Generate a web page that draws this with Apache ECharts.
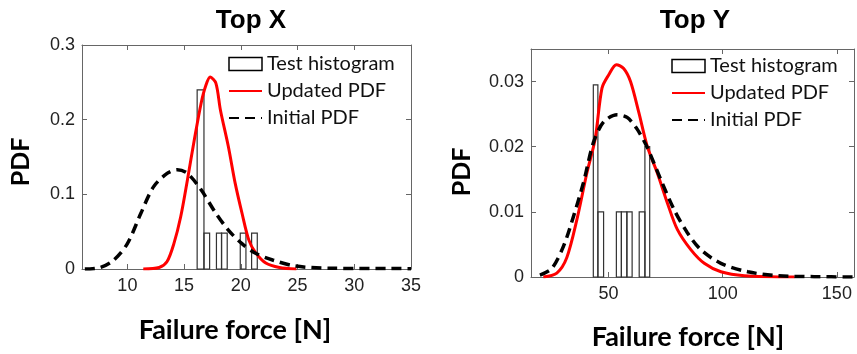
<!DOCTYPE html>
<html>
<head>
<meta charset="utf-8">
<script src="https://cdn.jsdelivr.net/npm/echarts@6/dist/echarts.min.js"></script>
<style>html,body{margin:0;padding:0;background:#fff}#c{width:857px;height:354px}</style>
</head>
<body>
<div id="c"></div>
<script>
// ---------- Data: Top X ----------
const topXTickLabels = [10, 15, 20, 25, 30, 35];
const topXYTicks = [0, 0.1, 0.2, 0.3];
const topXHistStart = [16.15, 16.75, 17.85, 18.3, 19.95, 20.95];
const topXHistEnd   = [16.75, 17.25, 18.3, 18.8, 20.45, 21.45];
const topXHistValue = [0.24, 0.048, 0.048, 0.048, 0.048, 0.048];
const topXUpdatedX = [11.4, 12.8, 13.5, 14.1, 14.7, 15.3, 15.9, 16.5, 16.9, 17.3, 17.8, 18.2, 18.9, 19.5, 20.1, 20.7, 21.3, 22.2, 23.4, 24.9];
const topXUpdatedY = [0, 0.002, 0.01, 0.034, 0.07, 0.12, 0.173, 0.222, 0.245, 0.257, 0.249, 0.213, 0.164, 0.115, 0.075, 0.039, 0.022, 0.008, 0.002, 0];
const topXInitialX = [6.25, 7.6, 8.8, 10.0, 11.2, 12.3, 13.5, 14.4, 15.3, 16.5, 17.7, 18.9, 20.1, 21.3, 22.8, 24.8, 27.8, 35];
const topXInitialY = [0, 0.002, 0.012, 0.034, 0.075, 0.11, 0.128, 0.133, 0.128, 0.106, 0.077, 0.052, 0.034, 0.021, 0.012, 0.004, 0.001, 0.0005];

// ---------- Data: Top Y ----------
const topYTickLabels = [50, 100, 150];
const topYYTicks = [0, 0.01, 0.02, 0.03];
const topYHistStart = [43.3, 45.3, 53.4, 55.6, 58.0, 63.4, 65.9];
const topYHistEnd   = [45.3, 47.8, 55.6, 58.0, 60.3, 65.9, 68.0];
const topYHistValue = [0.0295, 0.01, 0.01, 0.01, 0.01, 0.01, 0.02];
const topYUpdatedX = [21.4, 27.3, 31.7, 36.1, 40.5, 44.1, 47.1, 50, 53.4, 56.6, 59.6, 63.2, 66.9, 71.3, 75.7, 80.1, 86, 91.9, 99.2, 109.5, 131.5];
const topYUpdatedY = [0, 0.0006, 0.003, 0.0088, 0.016, 0.0212, 0.029, 0.031, 0.0326, 0.032, 0.030, 0.0253, 0.0201, 0.016, 0.0114, 0.0073, 0.0042, 0.0021, 0.0008, 0.0002, 0];
const topYInitialX = [19.9, 25.1, 30.2, 34.6, 39, 43.4, 47.8, 53.7, 58.1, 62.5, 66.9, 72.8, 78.6, 84.5, 90.4, 99.2, 111, 124.2, 140, 157.5];
const topYInitialY = [0.0003, 0.0013, 0.0047, 0.0093, 0.0145, 0.0207, 0.0238, 0.0249, 0.0245, 0.0227, 0.0199, 0.015, 0.0104, 0.0068, 0.0042, 0.0021, 0.0008, 0.0002, 0.00005, 0];

const NAME_HIST = 'Test histogram', NAME_UPD = 'Updated PDF', NAME_INIT = 'Initial PDF';

function zip(a, b) { return a.map((v, i) => [v, b[i]]); }
function histData(s, e, v) { return s.map((x, i) => [x, e[i], v[i]]); }

function renderHist(params, api) {
  const p0 = api.coord([api.value(0), api.value(2)]);
  const p1 = api.coord([api.value(1), 0]);
  return {
    type: 'rect',
    shape: { x: p0[0], y: p0[1], width: p1[0] - p0[0], height: p1[1] - p0[1] },
    style: { fill: 'none', stroke: '#333', lineWidth: 1.2 }
  };
}

const axisCol = '#666';
const labelStyle = { fontFamily: 'Liberation Sans', fontSize: 18, color: '#222' };

function bottomX(gi, min, max, ticks) {
  return {
    type: 'value', gridIndex: gi, min, max, position: 'bottom',
    axisLine: { show: true, onZero: false, lineStyle: { color: axisCol, width: 1 } },
    axisTick: { show: true, inside: true, length: 5, customValues: ticks, lineStyle: { color: axisCol } },
    axisLabel: Object.assign({ customValues: ticks, margin: 8 }, labelStyle),
    splitLine: { show: false }
  };
}
function topX(gi, min, max, ticks) {
  return {
    type: 'value', gridIndex: gi, min, max, position: 'top',
    axisLine: { show: true, onZero: false, lineStyle: { color: axisCol, width: 1 } },
    axisTick: { show: true, inside: true, length: 5, customValues: ticks, lineStyle: { color: axisCol } },
    axisLabel: { show: false }, splitLine: { show: false }
  };
}
function leftY(gi, max, ticks) {
  return {
    type: 'value', gridIndex: gi, min: 0, max, position: 'left',
    axisLine: { show: true, onZero: false, lineStyle: { color: axisCol, width: 1 } },
    axisTick: { show: true, inside: true, length: 5, customValues: ticks, lineStyle: { color: axisCol } },
    axisLabel: Object.assign({ customValues: ticks, margin: 7 }, labelStyle),
    splitLine: { show: false }
  };
}
function rightY(gi, max, ticks) {
  return {
    type: 'value', gridIndex: gi, min: 0, max, position: 'right',
    axisLine: { show: true, onZero: false, lineStyle: { color: axisCol, width: 1 } },
    axisTick: { show: true, inside: true, length: 5, customValues: ticks, lineStyle: { color: axisCol } },
    axisLabel: { show: false }, splitLine: { show: false }
  };
}

const hiddenSymbol = { color: 'rgba(0,0,0,0)', borderWidth: 0, opacity: 0 };
const legendData = [
  { name: NAME_HIST, icon: 'rect', itemStyle: { color: '#fff', borderColor: '#000', borderWidth: 1.5 } },
  { name: NAME_UPD, itemStyle: hiddenSymbol },
  { name: NAME_INIT, itemStyle: hiddenSymbol }
];
const legendText = { fontFamily: 'Lato', fontSize: 20, color: '#111' };
const nameFont = 'bold 27px Lato';

const option = {
  animation: false,
  backgroundColor: '#fff',
  title: [
    { text: 'Top X', left: 246, top: 3, textAlign: 'center', textStyle: { fontFamily: 'Liberation Sans', fontWeight: 'bold', fontSize: 26, color: '#000' } },
    { text: 'Top Y', left: 690, top: 3, textAlign: 'center', textStyle: { fontFamily: 'Liberation Sans', fontWeight: 'bold', fontSize: 26, color: '#000' } }
  ],
  legend: [
    { data: legendData, left: 228, top: 54, orient: 'vertical', itemWidth: 33, itemHeight: 13, itemGap: 7, textStyle: legendText, padding: 0 },
    { data: legendData, left: 671, top: 56, orient: 'vertical', itemWidth: 33, itemHeight: 13, itemGap: 7, textStyle: legendText, padding: 0 }
  ],
  grid: [
    { left: 82, top: 45, width: 329, height: 224 },
    { left: 531, top: 49, width: 323, height: 228 }
  ],
  xAxis: [
    bottomX(0, 6, 35, topXTickLabels),
    bottomX(1, 16, 157.5, topYTickLabels),
    topX(0, 6, 35, topXTickLabels),
    topX(1, 16, 157.5, topYTickLabels)
  ],
  yAxis: [
    leftY(0, 0.3, topXYTicks),
    leftY(1, 0.035, topYYTicks),
    rightY(0, 0.3, topXYTicks),
    rightY(1, 0.035, topYYTicks)
  ],
  graphic: [
    { type: 'text', style: { text: 'Failure force [N]', x: 235, y: 330, align: 'center', verticalAlign: 'middle', font: nameFont, fill: '#000' } },
    { type: 'text', style: { text: 'Failure force [N]', x: 688, y: 337, align: 'center', verticalAlign: 'middle', font: nameFont, fill: '#000' } },
    { type: 'text', x: 21, y: 162, rotation: Math.PI / 2, style: { text: 'PDF', x: 0, y: 0, align: 'center', verticalAlign: 'middle', font: 'bold 25px Lato', fill: '#000' } },
    { type: 'text', x: 462, y: 172, rotation: Math.PI / 2, style: { text: 'PDF', x: 0, y: 0, align: 'center', verticalAlign: 'middle', font: 'bold 25px Lato', fill: '#000' } }
  ],
  series: [
    { name: NAME_HIST, type: 'custom', xAxisIndex: 0, yAxisIndex: 0, renderItem: renderHist, encode: { x: [0, 1], y: 2 },
      itemStyle: { color: '#fff', borderColor: '#000' }, data: histData(topXHistStart, topXHistEnd, topXHistValue), z: 1 },
    { name: NAME_UPD, type: 'line', xAxisIndex: 0, yAxisIndex: 0, data: zip(topXUpdatedX, topXUpdatedY), smooth: 0.3, symbol: 'none',
      lineStyle: { color: '#ff0000', width: 3 }, itemStyle: { color: '#ff0000' }, z: 3 },
    { name: NAME_INIT, type: 'line', xAxisIndex: 0, yAxisIndex: 0, data: zip(topXInitialX, topXInitialY), smooth: 0.3, symbol: 'none',
      lineStyle: { color: '#000', width: 3.5, type: [10, 6] }, itemStyle: { color: '#000' }, z: 4 },
    { name: NAME_HIST, type: 'custom', xAxisIndex: 1, yAxisIndex: 1, renderItem: renderHist, encode: { x: [0, 1], y: 2 },
      itemStyle: { color: '#fff', borderColor: '#000' }, data: histData(topYHistStart, topYHistEnd, topYHistValue), z: 1 },
    { name: NAME_UPD, type: 'line', xAxisIndex: 1, yAxisIndex: 1, data: zip(topYUpdatedX, topYUpdatedY), smooth: 0.3, symbol: 'none',
      lineStyle: { color: '#ff0000', width: 3 }, itemStyle: { color: '#ff0000' }, z: 3 },
    { name: NAME_INIT, type: 'line', xAxisIndex: 1, yAxisIndex: 1, data: zip(topYInitialX, topYInitialY), smooth: 0.3, symbol: 'none',
      lineStyle: { color: '#000', width: 3.5, type: [10, 6] }, itemStyle: { color: '#000' }, z: 4 }
  ]
};

const chart = echarts.init(document.getElementById('c'), null, { renderer: 'canvas' });
chart.setOption(option);
</script>
</body>
</html>
